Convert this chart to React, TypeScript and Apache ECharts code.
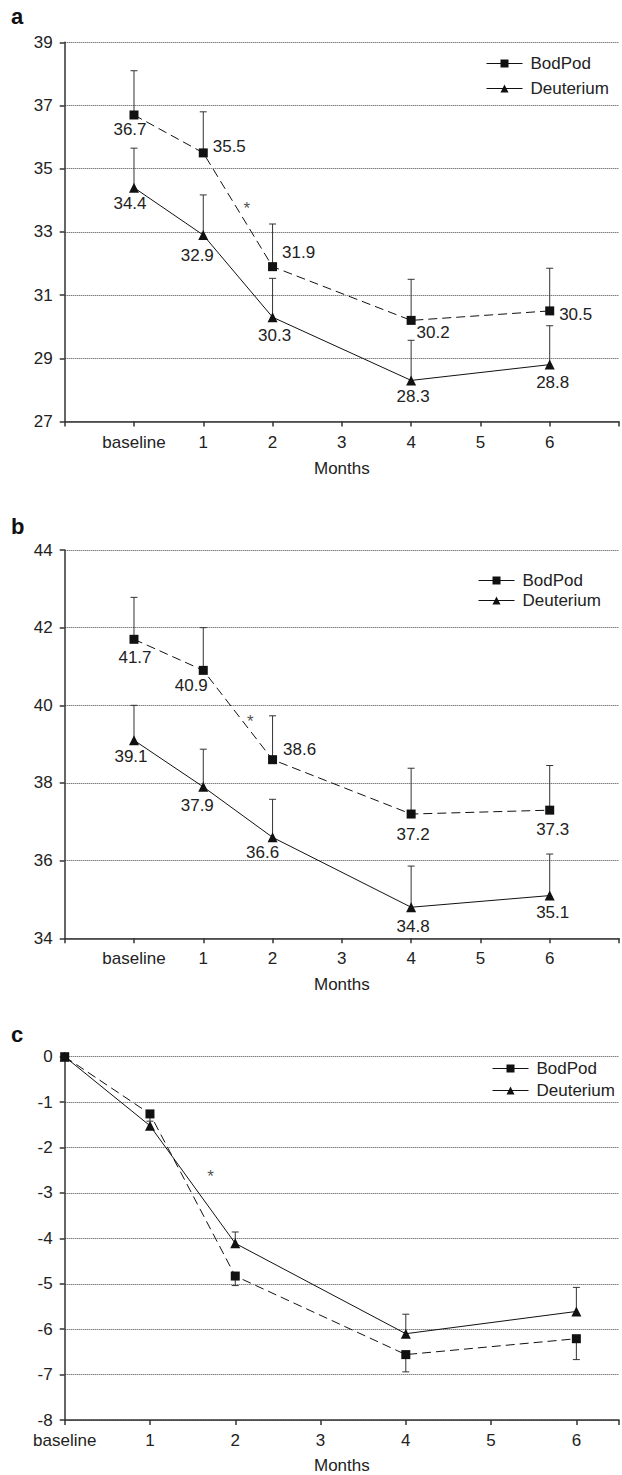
import React, { useEffect, useRef } from "react";
import * as echarts from "echarts";

// ---------- data ----------
const xTickLabels = ["baseline", "1", "2", "3", "4", "5", "6"];
const months = [0, 1, 2, 4, 6]; // 0 = baseline

// panel a
const bodPodA = [36.7, 35.5, 31.9, 30.2, 30.5];
const bodPodAErr = [38.1, 36.8, 33.25, 31.5, 31.85];
const deutA = [34.4, 32.9, 30.3, 28.3, 28.8];
const deutAErr = [35.65, 34.17, 31.53, 29.57, 30.03];
const sigA = [1.63, 33.9];

// panel b
const bodPodB = [41.7, 40.9, 38.6, 37.2, 37.3];
const bodPodBErr = [42.78, 42.0, 39.73, 38.38, 38.45];
const deutB = [39.1, 37.9, 36.6, 34.8, 35.1];
const deutBErr = [40.0, 38.87, 37.58, 35.86, 36.17];
const sigB = [1.68, 39.71];

// panel c
const bodPodC = [0, -1.26, -4.83, -6.56, -6.21];
const bodPodCErr = [null, -1.42, -5.04, -6.94, -6.67];
const deutC = [0, -1.52, -4.11, -6.1, -5.61];
const deutCErr = [null, null, -3.86, -5.67, -5.08];
const sigC = [1.71, -2.52];

// ---------- styles ----------
const FONT = '"Liberation Sans", Arial, Helvetica, sans-serif';
const TXT = "#222";
const AX = "#333";
const INK = "#111";

const labelOffBodA = [[-4, 15], [26, -6], [26, -14], [22, 12], [26, 4]];
const labelOffDeutA = [[-4, 16], [-6, 20], [2, 18], [2, 16], [3, 18]];
const labelOffBodB = [[1, 18], [-12, 15], [27, -10], [2, 20], [3, 19]];
const labelOffDeutB = [[-3, 16], [-6, 19], [-10, 15], [2, 19], [3, 17]];

function lineData(vals: number[], offs: number[][] | null) {
  return vals.map((v, i) => {
    const item: any = { value: [months[i], v] };
    if (offs) {
      item.label = {
        show: true,
        position: "inside",
        offset: offs[i],
        formatter: v.toFixed(1),
        color: TXT,
        fontSize: 17,
        fontFamily: FONT,
      };
    }
    return item;
  });
}

function errData(vals: number[], errs: (number | null)[]) {
  const out: number[][] = [];
  vals.forEach((v, i) => {
    const e = errs[i];
    if (e !== null && e !== undefined) out.push([months[i], v, e]);
  });
  return out;
}

const renderErr = (params: any, api: any) => {
  const x = api.value(0);
  const y = api.value(1);
  const e = api.value(2);
  const p0 = api.coord([x, y]);
  const p1 = api.coord([x, e]);
  const hw = 3.5;
  return {
    type: "group",
    children: [
      { type: "line", shape: { x1: p0[0], y1: p0[1], x2: p1[0], y2: p1[1] }, style: { stroke: "#333", lineWidth: 1 } },
      { type: "line", shape: { x1: p1[0] - hw, y1: p1[1], x2: p1[0] + hw, y2: p1[1] }, style: { stroke: "#333", lineWidth: 1 } },
    ],
  };
};

function seriesFor(idx: number, bod: number[], bodErr: any[], deut: number[], deutErr: any[], sig: number[], offB: any, offD: any) {
  return [
    {
      type: "custom",
      name: "errB" + idx,
      xAxisIndex: idx,
      yAxisIndex: idx,
      renderItem: renderErr,
      data: errData(bod, bodErr),
      encode: { x: 0, y: [1, 2] },
      z: 1,
      silent: true,
    },
    {
      type: "custom",
      name: "errD" + idx,
      xAxisIndex: idx,
      yAxisIndex: idx,
      renderItem: renderErr,
      data: errData(deut, deutErr),
      encode: { x: 0, y: [1, 2] },
      z: 1,
      silent: true,
    },
    {
      type: "line",
      name: "Deuterium",
      xAxisIndex: idx,
      yAxisIndex: idx,
      data: lineData(deut, offD),
      symbol: "triangle",
      symbolSize: 10,
      color: INK,
      itemStyle: { color: INK },
      lineStyle: { color: INK, width: 1, type: "solid" },
      z: 3,
    },
    {
      type: "line",
      name: "BodPod",
      xAxisIndex: idx,
      yAxisIndex: idx,
      data: lineData(bod, offB),
      symbol: "rect",
      symbolSize: 9,
      color: INK,
      itemStyle: { color: INK },
      lineStyle: { color: INK, width: 1, type: [9, 5] },
      z: 4,
    },
    {
      type: "scatter",
      name: "sig" + idx,
      xAxisIndex: idx,
      yAxisIndex: idx,
      data: [sig],
      symbolSize: 0,
      label: {
        show: true,
        position: "inside",
        formatter: "*",
        offset: [0, 5],
        color: TXT,
        fontSize: 17,
        fontFamily: FONT,
      },
      z: 5,
    },
  ];
}

function xAxisAB(i: number) {
  return {
    gridIndex: i,
    type: "value",
    min: -1,
    max: 7,
    interval: 1,
    axisLine: { show: true, onZero: false, lineStyle: { color: AX, width: 1.5 } },
    axisTick: { show: true, length: 5, lineStyle: { color: AX, width: 1.5 } },
    axisLabel: {
      margin: 12,
      fontSize: 17,
      color: TXT,
      fontFamily: FONT,
      formatter: (v: number) => (v >= 0 && v <= 6 ? xTickLabels[v] : ""),
    },
    splitLine: { show: false },
    name: "Months",
    nameLocation: "middle",
    nameGap: 38,
    nameTextStyle: { fontSize: 17, color: TXT, fontFamily: FONT },
  };
}

function yAxisFor(i: number, min: number, max: number, interval: number) {
  return {
    gridIndex: i,
    type: "value",
    min,
    max,
    interval,
    axisLine: { show: true, onZero: false, lineStyle: { color: AX, width: 1.5 } },
    axisTick: { show: true, length: 5, lineStyle: { color: AX, width: 1.5 } },
    axisLabel: { margin: 12, fontSize: 17, color: TXT, fontFamily: FONT },
    splitLine: { show: true, lineStyle: { type: "dotted", color: "#444", width: 1 } },
  };
}

function legendFor(left: number, top: number, gap: number) {
  return {
    orient: "vertical",
    left,
    top,
    itemWidth: 36,
    itemHeight: 10,
    itemGap: gap,
    data: ["BodPod", "Deuterium"],
    lineStyle: { type: "solid", width: 1 },
    textStyle: { fontSize: 17, color: TXT, fontFamily: FONT, padding: [0, 0, 0, 3] },
    selectedMode: false,
  };
}

function panelLetter(t: string, y: number) {
  return {
    type: "text",
    x: 11,
    y,
    style: { text: t, fontSize: 22, fontWeight: "bold", fontFamily: FONT, fill: INK, verticalAlign: "middle" },
  };
}

export default function App() {
  const ref = useRef<HTMLDivElement>(null);
  useEffect(() => {
    document.body.style.margin = "0";
    if (!ref.current) return;
    const chart = echarts.init(ref.current, undefined, { renderer: "svg" });
    chart.setOption({
      animation: false,
      backgroundColor: "#fff",
      textStyle: { fontFamily: FONT },
      grid: [
        { left: 64.7, right: 1, top: 42.3, height: 379.2 },
        { left: 64.7, right: 1, top: 550, height: 388.3 },
        { left: 64.7, right: 0, top: 1056.7, height: 364.6 },
      ],
      xAxis: [
        xAxisAB(0),
        xAxisAB(1),
        {
          gridIndex: 2,
          type: "value",
          min: 0,
          max: 6.5,
          interval: 1,
          axisLine: { show: true, onZero: false, lineStyle: { color: AX, width: 1.5 } },
          axisTick: { show: true, length: 5, lineStyle: { color: AX, width: 1.5 } },
          axisLabel: {
            margin: 12,
            fontSize: 17,
            color: TXT,
            fontFamily: FONT,
            formatter: (v: number) => (Number.isInteger(v) && v >= 0 && v <= 6 ? xTickLabels[v] : ""),
          },
          splitLine: { show: false },
          name: "Months",
          nameLocation: "middle",
          nameGap: 37,
          nameTextStyle: { fontSize: 17, color: TXT, fontFamily: FONT },
        },
      ],
      yAxis: [yAxisFor(0, 27, 39, 2), yAxisFor(1, 34, 44, 2), yAxisFor(2, -8, 0, 1)],
      legend: [legendFor(481, 50, 8), legendFor(473, 567, 3), legendFor(487, 1055, 5)],
      graphic: [panelLetter("a", 16.5), panelLetter("b", 526), panelLetter("c", 1034)],
      series: [
        ...seriesFor(0, bodPodA, bodPodAErr, deutA, deutAErr, sigA, labelOffBodA, labelOffDeutA),
        ...seriesFor(1, bodPodB, bodPodBErr, deutB, deutBErr, sigB, labelOffBodB, labelOffDeutB),
        ...seriesFor(2, bodPodC, bodPodCErr, deutC, deutCErr, sigC, null, null),
      ],
    });
    return () => chart.dispose();
  }, []);
  return <div ref={ref} style={{ width: 622, height: 1475 }} />;
}
